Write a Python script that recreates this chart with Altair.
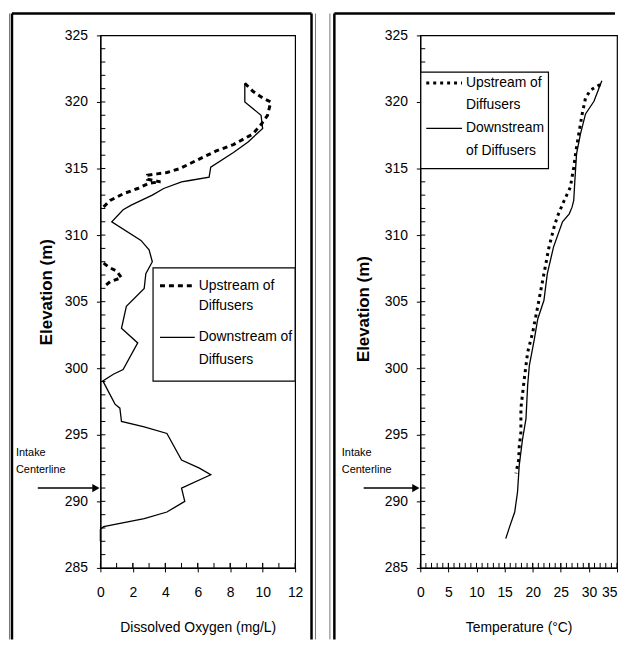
import altair as alt
import pandas as pd

FONT = "Liberation Sans"

# ---------------- data ----------------
# Left panel: dissolved oxygen profiles
do_down_elev = [321.4, 320.0, 319.0, 318.0, 317.0, 316.2, 315.1, 314.35, 314.1, 314.0,
                313.5, 313.0, 312.25, 311.9, 311.0, 309.6, 308.9, 308.0, 307.1, 306.0,
                304.65, 303.0, 301.9, 299.9, 299.55, 299.05, 297.3, 297.0, 296.0, 295.6,
                295.1, 293.1, 292.5, 292.0, 291.0, 290.0, 289.2, 288.7, 288.1, 287.9, 287.0]
do_down_mgl = [8.9, 8.9, 9.9, 10.0, 9.1, 8.2, 6.8, 6.7, 5.5, 5.0,
               3.9, 3.2, 1.9, 1.4, 0.7, 2.5, 3.0, 3.2, 2.8, 2.7,
               1.6, 1.3, 2.3, 1.4, 0.8, 0.15, 0.9, 1.2, 1.3, 2.7,
               4.1, 5.0, 6.1, 6.8, 5.0, 5.2, 4.1, 2.7, 0.2, 0.0, 0.0]

do_up_elev = [321.4, 320.8, 320.3, 320.0, 319.0, 318.3, 317.6, 316.8, 316.3, 315.6,
              315.0, 314.7, 314.6, 314.5, 314.2, 314.0, 313.9, 313.5, 313.1, 312.6, 312.0,
              307.9, 307.6, 307.3, 306.8, 306.5, 306.1]
do_up_mgl = [8.9, 9.4, 10.0, 10.5, 10.3, 9.9, 9.4, 8.2, 7.1, 5.9,
             4.9, 4.1, 3.5, 2.9, 2.9, 3.7, 3.0, 2.3, 1.4, 0.6, 0.1,
             0.2, 0.5, 1.0, 1.3, 0.6, 0.2]
do_up_seg = [0, 0, 0, 0, 0, 0, 0, 0, 0, 0,
             0, 0, 0, 0, 0, 0, 0, 0, 0, 0, 0,
             1, 1, 1, 1, 1, 1]

# Right panel: temperature profiles
t_down_elev = [321.6, 320.05, 319.1, 317.6, 316.1, 314.1, 312.6, 312.1, 311.6, 311.0,
               309.1, 307.1, 305.1, 303.7, 302.2, 300.2, 298.7, 296.2, 294.7, 292.7,
               290.7, 289.2, 288.1, 287.2]
t_down_c = [32.3, 30.9, 29.4, 28.5, 27.8, 27.5, 27.3, 27.0, 26.5, 25.3,
            23.7, 22.6, 22.0, 20.9, 20.3, 19.4, 19.1, 18.8, 18.2, 17.6,
            17.3, 16.8, 15.9, 15.2]

t_up_elev = [321.3, 320.9, 320.3, 319.1, 318.1, 316.6, 315.1, 313.6, 312.6, 311.4,
             310.6, 309.1, 307.1, 304.65, 302.7, 301.2, 299.2, 297.0, 295.2, 294.1,
             293.1, 292.1]
t_up_c = [32.0, 30.3, 29.4, 28.8, 28.4, 27.8, 27.3, 26.7, 25.6, 24.4,
          23.8, 22.9, 22.0, 20.9, 20.0, 19.1, 18.5, 17.9, 17.9, 17.6,
          17.5, 17.0]

# axes
elev_ticks = [285, 290, 295, 300, 305, 310, 315, 320, 325]
elev_minor = list(range(286, 325))
do_ticks = [0, 2, 4, 6, 8, 10, 12]
do_minor = list(range(1, 12))
t_ticks = [0, 5, 10, 15, 20, 25, 30, 35]
t_minor = list(range(1, 35))

intake_elev = 291.0
intake_text = ["Intake", "Centerline"]
intake_text_elev = [293.65, 292.35]

H = 536
FB = 608  # frame bottom (px below plot top)
one = pd.DataFrame({"a": [0]})


def df_line(elev, val, seg=None):
    return pd.DataFrame({"elev": elev, "val": val, "i": list(range(len(elev))),
                         "seg": seg if seg is not None else [0] * len(elev)})


def panel(W, xdom, xmaj, xmin, xtitle, down_df, up_df, up_dash, legend, annot_x,
          arrow_x0, frame_rules, ytitle_x, ytitle_y, last_right=False):
    xs = alt.Scale(domain=xdom, nice=False, zero=False)
    ys = alt.Scale(domain=[285, 325], nice=False, zero=False)
    label_align = "center"
    if last_right:
        label_align = {"condition": {"test": "datum.value == %d" % xdom[1], "value": "right"},
                       "value": "center"}
    xaxis = alt.Axis(values=xmaj, title=xtitle, tickSize=4, labelPadding=14,
                     labelFlush=False, labelOverlap=False, labelAlign=label_align,
                     titleY=60, titleBaseline="middle", titleFontWeight="normal",
                     titleFontSize=14, grid=False)
    yaxis = alt.Axis(values=elev_ticks, title="Elevation (m)", tickSize=4, labelPadding=9,
                     labelOverlap=False, titleX=ytitle_x, titleY=ytitle_y,
                     titleBaseline="middle", titleAlign="center", titleAngle=-90,
                     titleFontWeight="bold", titleFontSize=17, grid=False)

    def X(f):
        return alt.X(f, scale=xs, axis=xaxis, title=xtitle)

    def Y(f):
        return alt.Y(f, scale=ys, axis=yaxis, title="Elevation (m)")

    down = alt.Chart(down_df).mark_line(color="black", strokeWidth=1.3).encode(
        x=X("val:Q"), y=Y("elev:Q"), order=alt.Order("i:Q"), detail="seg:N",
    )
    up = alt.Chart(up_df).mark_line(color="black", strokeWidth=3, strokeDash=up_dash).encode(
        x=X("val:Q"), y=Y("elev:Q"), order=alt.Order("i:Q"), detail="seg:N",
    )
    # inner minor ticks
    ytk = alt.Chart(pd.DataFrame({"elev": elev_minor})).mark_rule(color="black", strokeWidth=1).encode(
        y=Y("elev:Q"), x=alt.value(0), x2=alt.value(5))
    xtk = alt.Chart(pd.DataFrame({"val": xmin + xmaj})).mark_rule(color="black", strokeWidth=1).encode(
        x=X("val:Q"), y=alt.value(H), y2=alt.value(H - 5))

    # page frame decoration
    frames = []
    for (x0, x1, y0, y1, col, sw) in frame_rules:
        enc = dict(x=alt.value(x0), y=alt.value(y0))
        if x1 is not None:
            enc["x2"] = alt.value(x1)
        if y1 is not None:
            enc["y2"] = alt.value(y1)
        frames.append(alt.Chart(one).mark_rule(color=col, strokeWidth=sw).encode(**enc))

    # legend box
    (bx0, bx1, by0, by1, sx0, sx1, tx, lines) = legend
    box = alt.Chart(one).mark_rect(fill="white", stroke="black", strokeWidth=1.2).encode(
        x=alt.value(bx0), x2=alt.value(bx1), y=alt.value(by0), y2=alt.value(by1))
    leg_layers = [box]
    for (txt, ty, sample) in lines:
        leg_layers.append(alt.Chart(one).mark_text(
            align="left", baseline="middle", font=FONT, fontSize=14, color="black", text=txt
        ).encode(x=alt.value(tx), y=alt.value(ty)))
        if sample == "up":
            leg_layers.append(alt.Chart(one).mark_rule(
                color="black", strokeWidth=3, strokeDash=up_dash).encode(
                x=alt.value(sx0), x2=alt.value(sx1), y=alt.value(ty)))
        elif sample == "down":
            leg_layers.append(alt.Chart(one).mark_rule(color="black", strokeWidth=1.3).encode(
                x=alt.value(sx0), x2=alt.value(sx1), y=alt.value(ty)))

    # intake annotation
    ann = alt.Chart(pd.DataFrame({"t": intake_text, "elev": intake_text_elev})).mark_text(
        align="left", baseline="middle", font=FONT, fontSize=11, color="black").encode(
        x=alt.value(annot_x), y=Y("elev:Q"), text="t:N")
    arrow = alt.Chart(pd.DataFrame({"elev": [intake_elev]})).mark_rule(
        color="black", strokeWidth=1.5).encode(
        x=alt.value(arrow_x0), x2=alt.value(-6), y=Y("elev:Q"))
    head = alt.Chart(pd.DataFrame({"elev": [intake_elev]})).mark_point(
        shape="triangle-right", filled=True, color="black", size=70, opacity=1).encode(
        x=alt.value(-4.5), y=Y("elev:Q"))

    layers = [down, up, ytk, xtk] + leg_layers + [ann, arrow, head] + frames
    return alt.layer(*layers).properties(width=W, height=H)


left = panel(
    196, [0, 12], do_ticks, do_minor, "Dissolved Oxygen (mg/L)",
    df_line(do_down_elev, do_down_mgl), df_line(do_up_elev, do_up_mgl, do_up_seg), [5, 4],
    (53, 196, 234, 348, 60, 95, 99,
     [("Upstream of", 252, "up"), ("Diffusers", 272.5, None),
      ("Downstream of", 304, "down"), ("Diffusers", 326.5, None)]),
    -85, -63,
    [(-91.5, None, -22, FB, "#777777", 1),
     (-89, None, -22, FB, "black", 2.5),
     (-89, 212.5, -22, None, "black", 2.5),
     (212.5, None, -22, FB, "black", 2.5),
     (216.5, None, -22, FB, "#777777", 1)],
    -54, 258,
)

right = panel(
    198, [0, 35], t_ticks, t_minor, "Temperature (°C)",
    df_line(t_down_elev, t_down_c), df_line(t_up_elev, t_up_c), [3, 4],
    (0.5, 129, 37, 134, 6, 42, 46,
     [("Upstream of", 48, "up"), ("Diffusers", 70, None),
      ("Downstream", 93.5, "down"), ("of Diffusers", 116, None)]),
    -79, -57,
    [(-91, None, -22, FB, "#777777", 1),
     (-86.5, None, -22, FB, "black", 2.5),
     (-86.5, 196, -22, None, "black", 2.5)],
    -57, 275, last_right=True,
)

chart = alt.hconcat(left, right, spacing=126, bounds="flush").properties(
    padding={"left": 0, "top": 1.5, "right": 0, "bottom": 0},
    background="white",
).configure_view(stroke="black", strokeWidth=1.2).configure_axis(
    labelFont=FONT, titleFont=FONT, labelFontSize=14, labelColor="black", titleColor="black",
    domainColor="black", domainWidth=1.2, tickColor="black", tickWidth=1,
)

chart.save("out.html", embed_options={"renderer": "svg", "actions": False})
